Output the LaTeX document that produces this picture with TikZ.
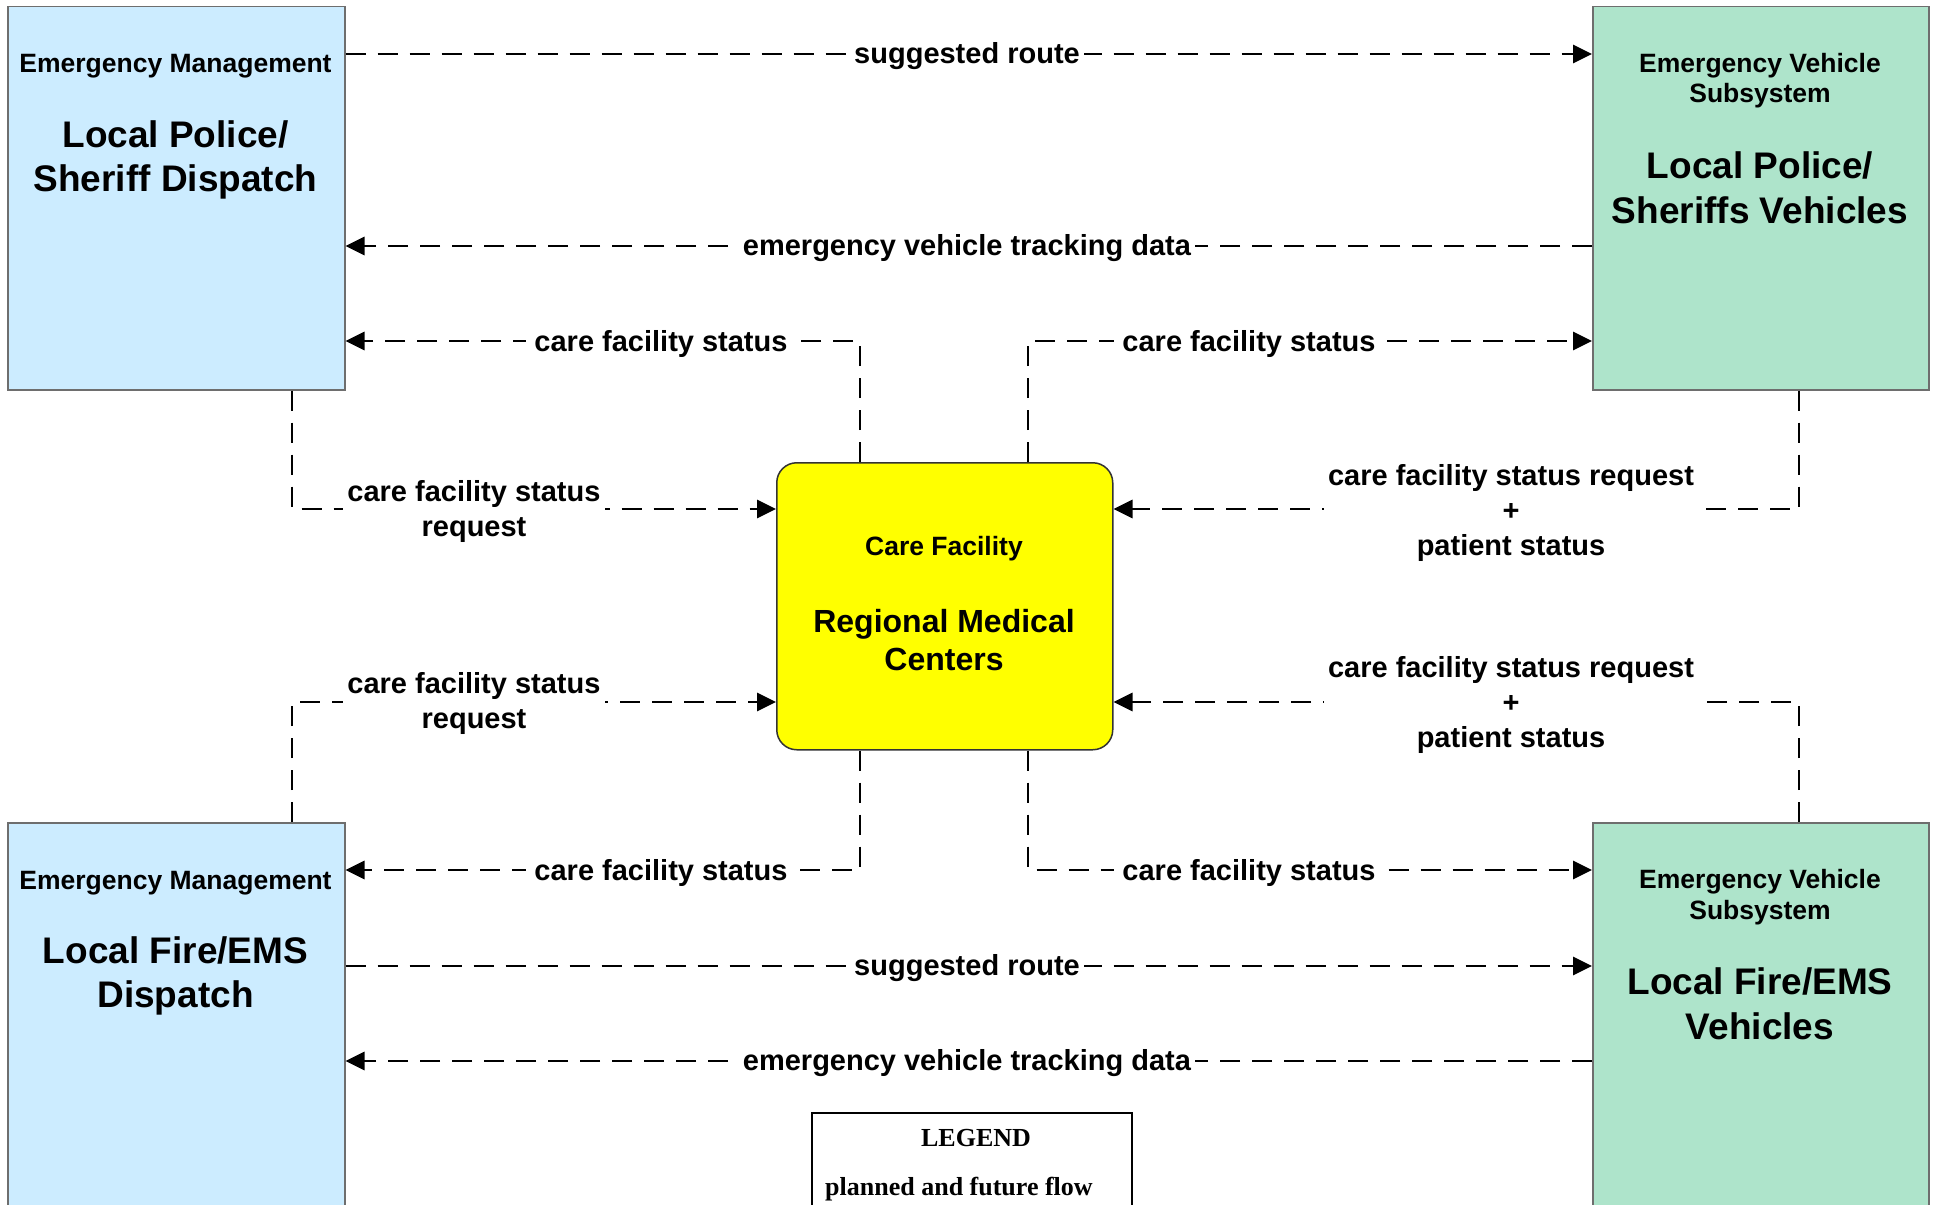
\documentclass[tikz,border=0pt]{standalone}
\usepackage{fontspec}
\setmainfont{Liberation Sans}
\newfontfamily\lgfont{Liberation Serif}
\usetikzlibrary{arrows.meta}
\definecolor{bluefill}{RGB}{204,236,255}
\definecolor{greenfill}{RGB}{174,228,203}
\definecolor{yellowfill}{RGB}{255,255,0}
\definecolor{boxline}{RGB}{110,110,110}
\tikzset{
  box/.style={draw=boxline, line width=1.5pt, inner sep=0pt, anchor=north west},
  flow/.style={draw=black, line width=2.9pt, dash pattern=on 20pt off 12pt, -{Triangle[length=19pt,width=18pt]}},
  lbl/.style={fill=white, inner xsep=4pt, inner ysep=1pt, yshift=-2.5pt, font=\bfseries\fontsize{29}{35}\selectfont, align=center},
  subt/.style={font=\bfseries\fontsize{26.5}{30}\selectfont, anchor=base, inner sep=0pt},
  bigt/.style={font=\bfseries\fontsize{37}{44}\selectfont, anchor=base, inner sep=0pt, yshift=-1pt},
  cft/.style={font=\bfseries\fontsize{32}{38}\selectfont, anchor=base, inner sep=0pt},
  lgt/.style={font=\lgfont\bfseries\fontsize{26}{30}\selectfont, inner sep=0pt},
}
\begin{document}
\begin{tikzpicture}[x=1pt,y=-1pt]
\useasboundingbox (0,0) rectangle (1937,1204);
\clip (0,0) rectangle (1937,1204);
\fill[white] (0,0) rectangle (1937,1204);

% boxes
\node[box, fill=bluefill, minimum width=337pt, minimum height=383pt] (tl) at (7,6) {};
\node[box, fill=greenfill, minimum width=336pt, minimum height=383pt] (tr) at (1592,6) {};
\node[box, fill=bluefill, minimum width=337pt, minimum height=400pt] (bl) at (7,822) {};
\node[box, fill=greenfill, minimum width=336pt, minimum height=400pt] (br) at (1592,822) {};
\node[box, fill=yellowfill, draw=black!80, rounded corners=20pt, minimum width=336pt, minimum height=287pt] (cf) at (776,462) {};
\node[draw=black, line width=2.4pt, anchor=north west, minimum width=320pt, minimum height=110pt, inner sep=0pt] (lg) at (811,1112) {};

% box texts
\node[subt] (tl1) at (175.5,73) {Emergency Management};
\node[bigt] (tl2) at (175.5,146) {Local Police/};
\node[bigt] (tl3) at (175.5,190) {Sheriff Dispatch};

\node[subt] (tr1) at (1760,73) {Emergency Vehicle};
\node[subt] (tr2) at (1760,103) {Subsystem};
\node[bigt] (tr3) at (1760,177) {Local Police/};
\node[bigt] (tr4) at (1760,222) {Sheriffs Vehicles};

\node[subt] (bl1) at (175.5,889) {Emergency Management};
\node[bigt] (bl2) at (175.5,962) {Local Fire/EMS};
\node[bigt] (bl3) at (175.5,1006) {Dispatch};

\node[subt] (br1) at (1760,888) {Emergency Vehicle};
\node[subt] (br2) at (1760,919) {Subsystem};
\node[bigt] (br3) at (1760,993) {Local Fire/EMS};
\node[bigt] (br4) at (1760,1038) {Vehicles};

\node[subt] (cf1) at (944,555) {Care Facility};
\node[cft] (cf2) at (944,632) {Regional Medical};
\node[cft] (cf3) at (944,670) {Centers};

\node[lgt, anchor=base] (lg1) at (976,1146) {LEGEND};
\node[lgt, anchor=base west] (lg2) at (825,1195) {planned and future flow};

% connectors
\draw[flow] (tl.east |- 0,54) -- (tr.west |- 0,54);
\draw[flow] (tr.west |- 0,246) -- (tl.east |- 0,246);
\draw[flow] (cf.north -| 860,0) |- (tl.east |- 0,341);
\draw[flow] (cf.north -| 1028,0) |- (tr.west |- 0,341);
\draw[flow] (tl.south -| 292,0) |- (cf.west |- 0,509);
\draw[flow] (tr.south -| 1799,0) |- (cf.east |- 0,509);
\draw[flow] (bl.north -| 292,0) |- (cf.west |- 0,702);
\draw[flow] (br.north -| 1799,0) |- (cf.east |- 0,702);
\draw[flow] (cf.south -| 860,0) |- (bl.east |- 0,870);
\draw[flow] (cf.south -| 1028,0) |- (br.west |- 0,870);
\draw[flow] (bl.east |- 0,966) -- (br.west |- 0,966);
\draw[flow] (br.west |- 0,1061) -- (bl.east |- 0,1061);

% labels
\node[lbl] (l1) at (967,54) {suggested route};
\node[lbl] (l2) at (967,246) {emergency vehicle tracking data};
\node[lbl, inner xsep=8pt] (l3) at (661,341) {care facility status};
\node[lbl, inner xsep=8pt] (l4) at (1249,341) {care facility status};
\node[lbl] (l5) at (474,509) {care facility status\\request};
\node[lbl] (l6) at (1511,510) {care facility status request\\+\\patient status};
\node[lbl] (l7) at (474,701) {care facility status\\request};
\node[lbl] (l8) at (1511,702) {care facility status request\\+\\patient status};
\node[lbl, inner xsep=8pt] (l9) at (661,870) {care facility status};
\node[lbl, inner xsep=8pt] (l10) at (1249,870) {care facility status};
\node[lbl] (l11) at (967,966) {suggested route};
\node[lbl] (l12) at (967,1061) {emergency vehicle tracking data};
\end{tikzpicture}
\end{document}
